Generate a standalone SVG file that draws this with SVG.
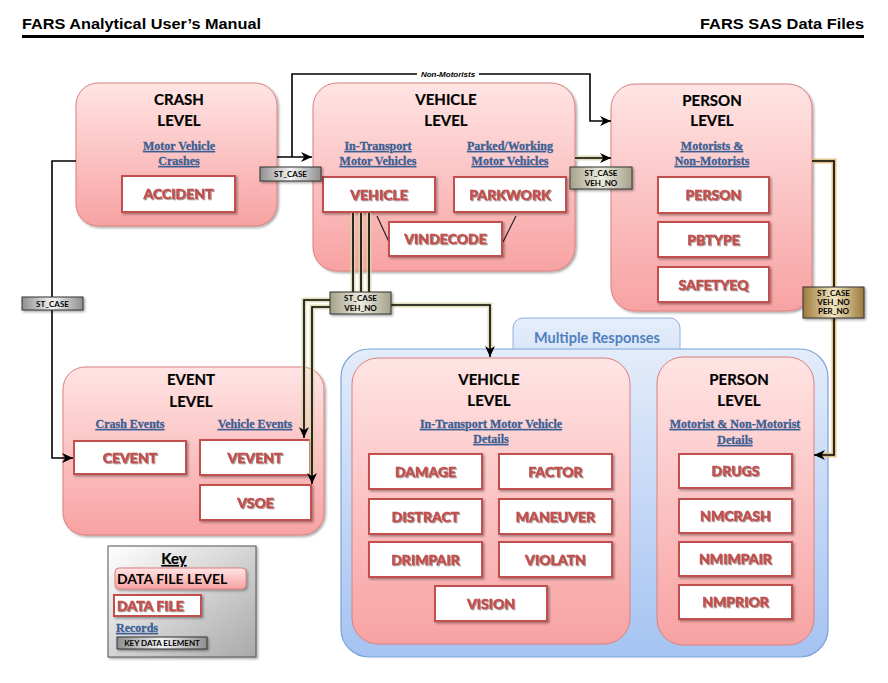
<svg xmlns="http://www.w3.org/2000/svg" width="888" height="683" viewBox="0 0 888 683">
<defs>
<linearGradient id="pink" x1="0" y1="0" x2="0" y2="1"><stop offset="0" stop-color="#ffe4e4"/><stop offset="1" stop-color="#f8a2a2"/></linearGradient>
<linearGradient id="blue" x1="0" y1="0" x2="0" y2="1"><stop offset="0" stop-color="#e3ecfa"/><stop offset="1" stop-color="#a5c3f2"/></linearGradient>
<linearGradient id="tab" x1="0" y1="0" x2="0" y2="1"><stop offset="0" stop-color="#e6eefb"/><stop offset="1" stop-color="#d3e1f7"/></linearGradient>
<linearGradient id="gray" x1="0" y1="0" x2="1" y2="0"><stop offset="0" stop-color="#8f8f8f"/><stop offset="0.5" stop-color="#f4f4f4"/><stop offset="1" stop-color="#8f8f8f"/></linearGradient>
<linearGradient id="beige" x1="0" y1="0" x2="1" y2="0"><stop offset="0" stop-color="#a5a18a"/><stop offset="0.5" stop-color="#ecebdf"/><stop offset="1" stop-color="#a5a18a"/></linearGradient>
<linearGradient id="gold" x1="0" y1="0" x2="1" y2="0"><stop offset="0" stop-color="#9c7a3c"/><stop offset="0.5" stop-color="#f3e6bf"/><stop offset="1" stop-color="#9c7a3c"/></linearGradient>
<linearGradient id="keyg" x1="0" y1="0" x2="1" y2="1"><stop offset="0" stop-color="#ffffff"/><stop offset="1" stop-color="#a9a9a9"/></linearGradient>
<filter id="sh" x="-10%" y="-10%" width="130%" height="140%"><feDropShadow dx="1.5" dy="1.5" stdDeviation="1" flood-color="#000" flood-opacity="0.35"/></filter>
<filter id="ts" x="-10%" y="-20%" width="130%" height="150%"><feDropShadow dx="1" dy="1" stdDeviation="0.7" flood-color="#000" flood-opacity="0.4"/></filter>
<marker id="arr" viewBox="0 0 10 10" refX="10" refY="5" markerWidth="11" markerHeight="11" markerUnits="userSpaceOnUse" orient="auto"><path d="M0,0.5 L10,5 L0,9.5 L3,5 Z" fill="#000"/></marker>
<style>
.lvl{fill:url(#pink);stroke:#d9807f;stroke-width:1}
.df{fill:#fff;stroke:#c0504d;stroke-width:2;filter:url(#sh)}
.dt{font-family:Lato,"Liberation Sans",sans-serif;font-weight:900;font-size:14px;fill:#c0504d;stroke:#c0504d;stroke-width:0.5;text-anchor:middle;filter:url(#ts)}
.tt{font-family:Lato,"Liberation Sans",sans-serif;font-weight:bold;font-size:15px;fill:#000;stroke:#000;stroke-width:0.2;text-anchor:middle}
.st{font-family:"Liberation Serif",serif;font-weight:bold;font-size:12px;fill:#3b5f94;stroke:#3b5f94;stroke-width:0.3;text-anchor:middle;text-decoration:underline}
.ln{fill:none;stroke:#000;stroke-width:1.6}
.glow{fill:none;stroke:#d9d4a6;stroke-width:5;stroke-opacity:0.8}
.glowg{fill:none;stroke:#d8b870;stroke-width:5;stroke-opacity:0.8}
.kl{stroke:#333;stroke-width:1;filter:url(#sh)}
.kt{font-family:Lato,"Liberation Sans",sans-serif;font-weight:bold;font-size:8px;fill:#000;text-anchor:middle}
.hd{font-family:"Liberation Sans Narrow","Liberation Sans",Arial,sans-serif;font-weight:bold;font-size:15px;fill:#000}
</style>
</defs>
<rect width="888" height="683" fill="#fff"/>

<g id="header">
<text class="hd" x="22" y="29" textLength="239" lengthAdjust="spacingAndGlyphs">FARS Analytical User’s Manual</text>
<text class="hd" x="864" y="29" text-anchor="end" textLength="164" lengthAdjust="spacingAndGlyphs">FARS SAS Data Files</text>
<rect x="22" y="35" width="842" height="3" fill="#000"/>
</g>

<g id="multiple-responses">
<rect x="513" y="318" width="167" height="50" rx="10" fill="url(#tab)" stroke="#8fb0e0" stroke-width="1"/>
<rect x="341" y="349" width="487" height="308" rx="28" fill="url(#blue)" stroke="#7da3d6" stroke-width="1.2"/>
<text x="597" y="343" font-family="Lato,'Liberation Sans',sans-serif" font-weight="bold" font-size="14.5" fill="#4f81bd" text-anchor="middle">Multiple Responses</text>
</g>

<g id="crash-level">
<rect class="lvl" x="76" y="83" width="201" height="143" rx="22" filter="url(#sh)"/>
<text class="tt" x="179" y="105">CRASH</text>
<text class="tt" x="179" y="126">LEVEL</text>
<text class="st" x="179" y="150">Motor Vehicle</text>
<text class="st" x="179" y="165">Crashes</text>
<g id="accident"><rect class="df" x="122" y="176" width="113" height="36"/><text class="dt" x="178.5" y="199">ACCIDENT</text></g>
</g>

<g id="vehicle-level">
<rect class="lvl" x="313" y="83" width="262" height="188" rx="24" filter="url(#sh)"/>
<text class="tt" x="446" y="105">VEHICLE</text>
<text class="tt" x="446" y="126">LEVEL</text>
<text class="st" x="378" y="150">In-Transport</text>
<text class="st" x="378" y="165">Motor Vehicles</text>
<text class="st" x="510" y="150">Parked/Working</text>
<text class="st" x="510" y="165">Motor Vehicles</text>
<path d="M377,216 L389,242 M516,216 L503,242" stroke="#222" stroke-width="1.2" fill="none"/>
<g id="vehicle"><rect class="df" x="323" y="177" width="112" height="35"/><text class="dt" x="379" y="200">VEHICLE</text></g>
<g id="parkwork"><rect class="df" x="454" y="177" width="112" height="35"/><text class="dt" x="510" y="200">PARKWORK</text></g>
<g id="vindecode"><rect class="df" x="389" y="222" width="113" height="34"/><text class="dt" x="445.5" y="244">VINDECODE</text></g>
</g>

<g id="person-level">
<rect class="lvl" x="611" y="84" width="201" height="227" rx="24" filter="url(#sh)"/>
<text class="tt" x="712" y="106">PERSON</text>
<text class="tt" x="712" y="126">LEVEL</text>
<text class="st" x="712" y="150">Motorists &amp;</text>
<text class="st" x="712" y="165">Non-Motorists</text>
<g id="person"><rect class="df" x="658" y="177" width="111" height="36"/><text class="dt" x="713.5" y="200">PERSON</text></g>
<g id="pbtype"><rect class="df" x="658" y="222" width="111" height="35"/><text class="dt" x="713.5" y="245">PBTYPE</text></g>
<g id="safetyeq"><rect class="df" x="658" y="267" width="111" height="35"/><text class="dt" x="713.5" y="290">SAFETYEQ</text></g>
</g>

<g id="event-level">
<rect class="lvl" x="63" y="367" width="261" height="168" rx="22" filter="url(#sh)"/>
<text class="tt" x="191" y="385">EVENT</text>
<text class="tt" x="191" y="407">LEVEL</text>
<text class="st" x="130" y="428">Crash Events</text>
<text class="st" x="255" y="428">Vehicle Events</text>
<g id="cevent"><rect class="df" x="74" y="441" width="112" height="33"/><text class="dt" x="130" y="463">CEVENT</text></g>
<g id="vevent"><rect class="df" x="200" y="440" width="110" height="35"/><text class="dt" x="255" y="463">VEVENT</text></g>
<g id="vsoe"><rect class="df" x="200" y="485" width="111" height="35"/><text class="dt" x="255.5" y="508">VSOE</text></g>
</g>

<g id="vehicle-details">
<rect class="lvl" x="352" y="358" width="278" height="286" rx="26"/>
<text class="tt" x="489" y="385">VEHICLE</text>
<text class="tt" x="489" y="406">LEVEL</text>
<text class="st" x="491" y="428">In-Transport Motor Vehicle</text>
<text class="st" x="491" y="443">Details</text>
<g id="damage"><rect class="df" x="369" y="454" width="113" height="35"/><text class="dt" x="425.5" y="477">DAMAGE</text></g>
<g id="factor"><rect class="df" x="499" y="454" width="113" height="35"/><text class="dt" x="555.5" y="477">FACTOR</text></g>
<g id="distract"><rect class="df" x="369" y="499" width="113" height="35"/><text class="dt" x="425.5" y="522">DISTRACT</text></g>
<g id="maneuver"><rect class="df" x="499" y="499" width="113" height="35"/><text class="dt" x="555.5" y="522">MANEUVER</text></g>
<g id="drimpair"><rect class="df" x="369" y="542" width="113" height="35"/><text class="dt" x="425.5" y="565">DRIMPAIR</text></g>
<g id="violatn"><rect class="df" x="499" y="542" width="113" height="35"/><text class="dt" x="555.5" y="565">VIOLATN</text></g>
<g id="vision"><rect class="df" x="435" y="586" width="112" height="35"/><text class="dt" x="491" y="609">VISION</text></g>
</g>

<g id="person-details">
<rect class="lvl" x="657" y="357" width="157" height="288" rx="26"/>
<text class="tt" x="739" y="385">PERSON</text>
<text class="tt" x="739" y="406">LEVEL</text>
<text class="st" x="735" y="428">Motorist &amp; Non-Motorist</text>
<text class="st" x="735" y="444">Details</text>
<g id="drugs"><rect class="df" x="679" y="454" width="113" height="34"/><text class="dt" x="735.5" y="476">DRUGS</text></g>
<g id="nmcrash"><rect class="df" x="679" y="499" width="113" height="34"/><text class="dt" x="735.5" y="521">NMCRASH</text></g>
<g id="nmimpair"><rect class="df" x="679" y="542" width="113" height="34"/><text class="dt" x="735.5" y="564">NMIMPAIR</text></g>
<g id="nmprior"><rect class="df" x="679" y="585" width="113" height="34"/><text class="dt" x="735.5" y="607">NMPRIOR</text></g>
</g>

<g id="key">
<rect x="108" y="546" width="148" height="111" fill="url(#keyg)" stroke="#555" stroke-width="1" filter="url(#sh)"/>
<text class="tt" x="174" y="564" text-decoration="underline">Key</text>
<rect x="115" y="568" width="131" height="21" rx="4" fill="url(#pink)" stroke="#d9807f" stroke-width="1" filter="url(#sh)"/>
<text x="117" y="584" font-family="Lato,'Liberation Sans',sans-serif" font-weight="bold" font-size="14" fill="#000">DATA FILE LEVEL</text>
<rect class="df" x="114" y="595" width="87" height="21"/>
<text x="117" y="611" font-family="Lato,'Liberation Sans',sans-serif" font-weight="900" font-size="14" fill="#c0504d" stroke="#c0504d" stroke-width="0.5" filter="url(#ts)">DATA FILE</text>
<text class="st" x="116" y="632" style="text-anchor:start">Records</text>
<rect class="kl" x="117" y="637" width="90" height="12" fill="url(#gray)"/>
<text class="kt" x="162" y="646" font-size="7">KEY DATA ELEMENT</text>
</g>

<g id="connectors">
<path class="ln" d="M277,157 H312" marker-end="url(#arr)"/>
<path class="ln" d="M292,157 V74 H590 V121 H611" marker-end="url(#arr)"/>
<rect x="417" y="69" width="62" height="10" fill="#fff"/>
<text x="448" y="77" font-family="'Liberation Sans',Arial,sans-serif" font-weight="bold" font-style="italic" font-size="8" fill="#000" text-anchor="middle">Non-Motorists</text>
<path class="ln" d="M76,161 H52 V458 H73" marker-end="url(#arr)"/>
<path class="glow" d="M575,158 H605"/>
<path class="ln" d="M575,158 H611" marker-end="url(#arr)"/>
<path class="glow" d="M353,213 V292 M361,213 V292 M369,213 V292"/>
<path class="ln" d="M353,213 V292 M361,213 V292 M369,213 V292"/>
<path class="glow" d="M330,300 H304 V432 M330,307 H312 V478 M391,305 H490 V351"/>
<path class="ln" d="M330,300 H304 V438" marker-end="url(#arr)"/>
<path class="ln" d="M330,307 H312 V484" marker-end="url(#arr)"/>
<path class="ln" d="M391,305 H490 V357" marker-end="url(#arr)"/>
<path class="glowg" d="M812,161 H834 V455 H820"/>
<path class="ln" d="M812,161 H834 V455 H814" marker-end="url(#arr)"/>
<rect class="kl" x="260" y="167" width="61" height="14" fill="url(#gray)"/>
<text class="kt" x="290.5" y="177">ST_CASE</text>
<rect class="kl" x="22" y="297" width="61" height="13" fill="url(#gray)"/>
<text class="kt" x="52.5" y="306.5">ST_CASE</text>
<rect class="kl" x="570" y="167" width="62" height="22" fill="url(#beige)"/>
<text class="kt" x="601" y="176">ST_CASE</text>
<text class="kt" x="601" y="185.5">VEH_NO</text>
<rect class="kl" x="330" y="292" width="61" height="22" fill="url(#beige)"/>
<text class="kt" x="360.5" y="301">ST_CASE</text>
<text class="kt" x="360.5" y="310.5">VEH_NO</text>
<rect class="kl" x="803" y="287" width="61" height="31" fill="url(#gold)"/>
<text class="kt" x="833.5" y="296">ST_CASE</text>
<text class="kt" x="833.5" y="305">VEH_NO</text>
<text class="kt" x="833.5" y="314">PER_NO</text>
</g>
</svg>
